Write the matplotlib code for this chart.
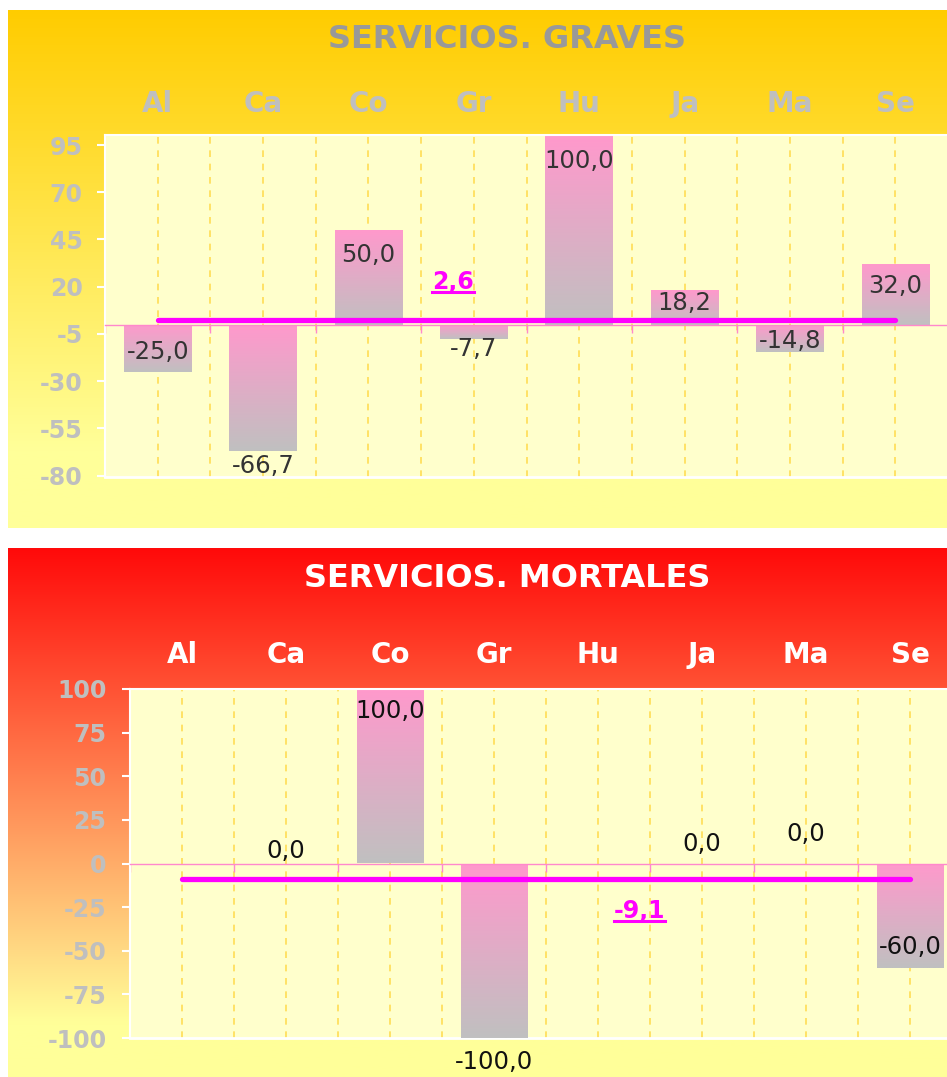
import numpy as np
import matplotlib.pyplot as plt
from matplotlib.lines import Line2D

# Data
regions = ['Al', 'Ca', 'Co', 'Gr', 'Hu', 'Ja', 'Ma', 'Se']
graves = [-25.0, -66.7, 50.0, -7.7, 100.0, 18.2, -14.8, 32.0]
graves_avg = 2.6
graves_ticks = [-80, -55, -30, -5, 20, 45, 70, 95]
mortales = [np.nan, 0.0, 100.0, -100.0, np.nan, 0.0, 0.0, -60.0]
mortales_avg = -9.1
mortales_ticks = [-100, -75, -50, -25, 0, 25, 50, 75, 100]

# label offsets from the bar end (points)
graves_lbl_dy = [14, -11, -18, -7, -18, -9, 8, -16]
mortales_lbl_dy = [0, 9, -16, -17, 0, 14, 21, 15]

plt.rcParams['font.family'] = ['DejaVu Sans']
plt.rcParams['font.weight'] = 'bold'
plt.rcParams['axes.unicode_minus'] = False

W, H = 947, 1077
fig = plt.figure(figsize=(W / 100, H / 100), dpi=100)
fig.patch.set_facecolor('white')


def box(x0, y0, x1, y1):
    # pixel box (top-left origin) -> figure fraction rect
    return [x0 / W, 1 - y1 / H, (x1 - x0) / W, (y1 - y0) / H]


def gradient_bg(rect, c_top, c_bot, stop=0.85):
    ax = fig.add_axes(rect, zorder=0)
    t = np.clip(np.linspace(0, 1, 300) / stop, 0, 1)[:, None]
    c_top = np.array(c_top) / 255
    c_bot = np.array(c_bot) / 255
    img = (c_top * (1 - t) + c_bot * t)[:, None, :]
    ax.imshow(img, aspect='auto', extent=(0, 1, 0, 1))
    ax.axis('off')


def panel(rect, values, avg, ticks, ylim, lbl_dy, avg_x, avg_dy,
          title, title_y, title_color, cat_color, val_color, ypad, xpad):
    ax = fig.add_axes(rect, zorder=1)
    ax.set_facecolor('#FFFFCC')
    x = np.arange(len(regions))
    bars = ax.bar(x, values, width=0.64, color='none', zorder=2)

    # pink -> grey gradient inside every bar
    grad = np.linspace(0, 1, 100)[:, None]
    pink = np.array([255, 153, 204]) / 255
    grey = np.array([192, 192, 192]) / 255
    img = (pink * (1 - grad) + grey * grad)[:, None, :]
    for b, v in zip(bars, values):
        if np.isnan(v):
            continue
        x0, y0 = b.get_x(), min(0, v)
        im = ax.imshow(img, aspect='auto', zorder=2,
                       extent=(x0, x0 + b.get_width(), y0, y0 + abs(v)))
        im.set_clip_path(b)

    # value labels
    for xi, v, dy in zip(x, values, lbl_dy):
        if np.isnan(v):
            continue
        ax.annotate(f'{v:.1f}'.replace('.', ','), (xi, v), xytext=(0, dy),
                    textcoords='offset points', ha='center', va='center',
                    fontsize=17.5, fontweight='normal', color=val_color,
                    zorder=6)

    # average line
    ax.plot(x, [avg] * len(x), color='#FF00FF', lw=3.8,
            solid_capstyle='round', zorder=5)
    avg_txt = ax.annotate(f'{avg:.1f}'.replace('.', ','), (avg_x, avg),
                          xytext=(0, avg_dy), textcoords='offset points',
                          ha='center', va='center', fontsize=17,
                          fontweight='bold', color='#FF00FF', zorder=6)

    ax.set_xlim(-0.5, len(x) - 0.5)
    ax.set_ylim(*ylim)
    ax.set_yticks(ticks)
    ax.set_xticks(x)
    ax.set_xticks(np.arange(-0.5, len(x)), minor=True)
    ax.set_xticklabels(regions)
    ax.tick_params(axis='y', colors='white', length=6, width=1.5, pad=ypad,
                   labelsize=17, labelcolor='#BFBFBF')
    ax.tick_params(axis='x', which='major', bottom=False, top=False,
                   labelbottom=False, labeltop=True, pad=xpad,
                   labelsize=20, labelcolor=cat_color)
    ax.tick_params(axis='x', which='minor', bottom=True, top=False,
                   direction='out', length=6, width=1, color='#FF88CC')
    ax.grid(axis='x', which='both', color='#FFDD55', ls=(0, (4, 4)), lw=1.2)
    ax.set_axisbelow(True)

    for s in ['left', 'top', 'right']:
        ax.spines[s].set_color('white')
        ax.spines[s].set_linewidth(1.5)
    ax.spines['bottom'].set_position(('data', 0))
    ax.spines['bottom'].set_color('#FF88CC')
    ax.spines['bottom'].set_linewidth(1)
    ax.axhline(ylim[0], color='white', lw=2, clip_on=False, zorder=1)

    fig.text(507 / W, 1 - title_y / H, title, ha='center', va='baseline',
             fontsize=23, fontweight='bold', color=title_color)
    return avg_txt


# backgrounds
gradient_bg(box(8, 10, 947, 528), (255, 204, 0), (255, 255, 153))
gradient_bg(box(8, 548, 947, 1077), (255, 10, 10), (255, 255, 153), 0.9)

t1 = panel(box(105, 135, 948, 477), graves, graves_avg, graves_ticks,
           (-80.7, 100.3), graves_lbl_dy, 2.8, 27,
           'SERVICIOS. GRAVES', 48, '#999999', '#BFBFBF', '#333333', 10, 9)
t2 = panel(box(130, 689, 962, 1038), mortales, mortales_avg, mortales_ticks,
           (-100, 100), mortales_lbl_dy, 4.4, -23,
           'SERVICIOS. MORTALES', 587, 'white', 'white', '#111111', 11, 11)

# underline the average labels
fig.canvas.draw()
inv = fig.transFigure.inverted()
for t in [t1, t2]:
    bb = t.get_window_extent()
    (x0, y0), (x1, _) = inv.transform([[bb.x0, bb.y0 + 2], [bb.x1, bb.y0]])
    fig.add_artist(Line2D([x0, x1], [y0, y0], color='#FF00FF', lw=2.2,
                          transform=fig.transFigure, zorder=10))

fig.savefig('out.png', dpi=100)
